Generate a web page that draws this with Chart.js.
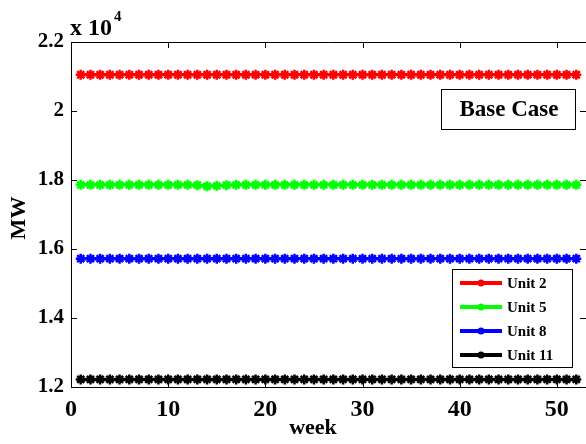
<!DOCTYPE html>
<html>
<head>
<meta charset="utf-8">
<script src="https://cdn.jsdelivr.net/npm/chart.js@4"></script>
<style>
  html, body { margin: 0; padding: 0; background: #fff; }
  #wrap { width: 586px; height: 444px; }
</style>
</head>
<body>
<div id="wrap"><canvas id="myChart" width="586" height="444"></canvas></div>
<script>
const weeks = [1, 2, 3, 4, 5, 6, 7, 8, 9, 10, 11, 12, 13, 14, 15, 16, 17, 18, 19, 20, 21, 22, 23, 24, 25, 26,
               27, 28, 29, 30, 31, 32, 33, 34, 35, 36, 37, 38, 39, 40, 41, 42, 43, 44, 45, 46, 47, 48, 49, 50, 51, 52];

const unit2 = [21050, 21050, 21050, 21050, 21050, 21050, 21050, 21050, 21050, 21050, 21050, 21050, 21050,
               21050, 21050, 21050, 21050, 21050, 21050, 21050, 21050, 21050, 21050, 21050, 21050, 21050,
               21050, 21050, 21050, 21050, 21050, 21050, 21050, 21050, 21050, 21050, 21050, 21050, 21050,
               21050, 21050, 21050, 21050, 21050, 21050, 21050, 21050, 21050, 21050, 21050, 21050, 21050];
const unit5 = [17860, 17860, 17860, 17860, 17860, 17860, 17860, 17860, 17860, 17860, 17860, 17860, 17850,
               17820, 17830, 17850, 17860, 17860, 17860, 17860, 17860, 17860, 17860, 17860, 17860, 17860,
               17860, 17860, 17860, 17860, 17860, 17860, 17860, 17860, 17860, 17860, 17860, 17860, 17860,
               17860, 17860, 17860, 17860, 17860, 17860, 17860, 17860, 17860, 17860, 17860, 17860, 17860];
const unit8 = [15720, 15720, 15720, 15720, 15720, 15720, 15720, 15720, 15720, 15720, 15720, 15720, 15720,
               15720, 15720, 15720, 15720, 15720, 15720, 15720, 15720, 15720, 15720, 15720, 15720, 15720,
               15720, 15720, 15720, 15720, 15720, 15720, 15720, 15720, 15720, 15720, 15720, 15720, 15720,
               15720, 15720, 15720, 15720, 15720, 15720, 15720, 15720, 15720, 15720, 15720, 15720, 15720];
const unit11 = [12220, 12220, 12220, 12220, 12220, 12220, 12220, 12220, 12220, 12220, 12220, 12220, 12220,
                12220, 12220, 12220, 12220, 12220, 12220, 12220, 12220, 12220, 12220, 12220, 12220, 12220,
                12220, 12220, 12220, 12220, 12220, 12220, 12220, 12220, 12220, 12220, 12220, 12220, 12220,
                12220, 12220, 12220, 12220, 12220, 12220, 12220, 12220, 12220, 12220, 12220, 12220, 12220];

const seriesLabels = ['Unit 2', 'Unit 5', 'Unit 8', 'Unit 11'];
const seriesColors = ['#ff0000', '#00ff00', '#0000ff', '#000000'];
const seriesValues = [unit2, unit5, unit8, unit11];

const xTicks = [0, 10, 20, 30, 40, 50];
const yTicks = [12000, 14000, 16000, 18000, 20000, 22000];

const serif = "'Liberation Serif', 'Times New Roman', serif";

const datasets = seriesValues.map((vals, i) => ({
    label: seriesLabels[i],
    data: weeks.map((w, j) => ({ x: w, y: vals[j] })),
    borderColor: seriesColors[i],
    backgroundColor: seriesColors[i],
    borderWidth: 3.5,
    pointStyle: 'star',
    pointRadius: 5,
    pointBorderWidth: 2.5,
    pointHoverRadius: 5,
    tension: 0
}));

// MATLAB-like frame, inward ticks, exponent, legend and text box
const matlabFrame = {
    id: 'matlabFrame',
    afterDraw(chart) {
        const { ctx, chartArea: a, scales } = chart;
        ctx.save();
        ctx.strokeStyle = '#000';
        ctx.lineWidth = 1;
        ctx.beginPath();
        ctx.moveTo(a.left + 0.5, a.bottom + 0.5);
        ctx.lineTo(a.left + 0.5, a.top + 0.5);
        ctx.lineTo(a.right + 1, a.top + 0.5);
        ctx.moveTo(a.left, a.bottom + 0.5);
        ctx.lineTo(a.right + 1, a.bottom + 0.5);
        ctx.stroke();

        // inward ticks
        ctx.beginPath();
        xTicks.forEach(v => {
            const px = Math.round(scales.x.getPixelForValue(v)) + 0.5;
            ctx.moveTo(px, a.bottom); ctx.lineTo(px, a.bottom - 6);
            ctx.moveTo(px, a.top); ctx.lineTo(px, a.top + 6);
        });
        yTicks.forEach(v => {
            const py = Math.round(scales.y.getPixelForValue(v)) + 0.5;
            ctx.moveTo(a.left, py); ctx.lineTo(a.left + 6, py);
            ctx.moveTo(a.right, py); ctx.lineTo(a.right - 6, py);
        });
        ctx.stroke();

        // exponent label
        ctx.fillStyle = '#000';
        ctx.textBaseline = 'alphabetic';
        ctx.textAlign = 'left';
        ctx.font = 'bold 24px ' + serif;
        ctx.fillText('x 10', 70, 35);
        ctx.font = 'bold 15px ' + serif;
        ctx.fillText('4', 114, 21);

        // axis titles
        ctx.font = 'bold 22px ' + serif;
        ctx.textAlign = 'center';
        ctx.textBaseline = 'middle';
        ctx.fillText('week', 313, 428);
        ctx.save();
        ctx.translate(19, 218);
        ctx.rotate(-Math.PI / 2);
        ctx.fillText('MW', 0, 0);
        ctx.restore();

        // text box
        ctx.fillStyle = '#fff';
        ctx.fillRect(441.5, 89.5, 134, 40);
        ctx.strokeStyle = '#000';
        ctx.strokeRect(441.5, 89.5, 134, 40);
        ctx.fillStyle = '#000';
        ctx.font = 'bold 23px ' + serif;
        ctx.fillText('Base Case', 509, 110);

        // legend
        ctx.fillStyle = '#fff';
        ctx.fillRect(452.5, 269.5, 120, 98);
        ctx.strokeStyle = '#000';
        ctx.strokeRect(452.5, 269.5, 120, 98);
        ctx.font = 'bold 15px ' + serif;
        ctx.textAlign = 'left';
        chart.data.datasets.forEach((ds, i) => {
            const y = 283 + i * 24;
            ctx.strokeStyle = ds.borderColor;
            ctx.lineWidth = 4;
            ctx.beginPath();
            ctx.moveTo(460, y);
            ctx.lineTo(502, y);
            ctx.stroke();
            ctx.fillStyle = ds.borderColor;
            ctx.beginPath();
            ctx.arc(481, y, 3.5, 0, Math.PI * 2);
            ctx.fill();
            ctx.fillStyle = '#000';
            ctx.fillText(ds.label, 507, y + 1);
        });
        ctx.restore();
    }
};

const ctx = document.getElementById('myChart').getContext('2d');
const chart = new Chart(ctx, {
    type: 'line',
    data: { datasets: datasets },
    options: {
        responsive: false,
        animation: false,
        events: [],
        layout: { autoPadding: false, padding: { top: 42, right: 0, left: 0, bottom: 0 } },
        plugins: {
            legend: { display: false },
            tooltip: { enabled: false }
        },
        scales: {
            x: {
                type: 'linear',
                min: 0,
                max: 53,
                afterBuildTicks: s => { s.ticks = xTicks.map(v => ({ value: v })); },
                afterFit: s => { s.height = 57; s.paddingLeft = 0; s.paddingRight = 0; },
                grid: { display: false, drawTicks: false },
                border: { display: false },
                ticks: {
                    color: '#000',
                    padding: 8,
                    maxRotation: 0,
                    font: { family: serif, size: 24, weight: 'bold' }
                }
            },
            y: {
                min: 12000,
                max: 22000,
                afterBuildTicks: s => { s.ticks = yTicks.map(v => ({ value: v })); },
                afterFit: s => { s.width = 71; s.paddingTop = 0; s.paddingBottom = 0; },
                grid: { display: false, drawTicks: false },
                border: { display: false },
                ticks: {
                    color: '#000',
                    padding: 7,
                    font: { family: serif, size: 21, weight: 'bold' },
                    callback: v => String(v / 10000)
                }
            }
        }
    },
    plugins: [matlabFrame]
});
</script>
</body>
</html>
